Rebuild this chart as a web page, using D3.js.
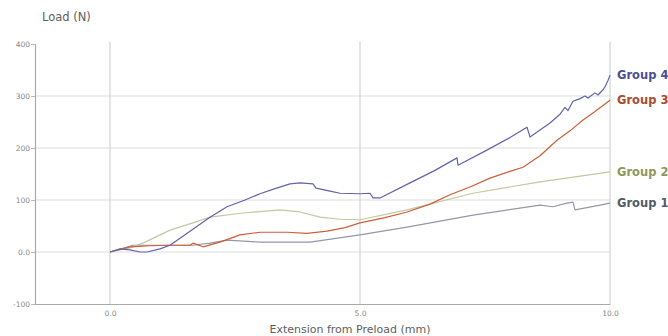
<!DOCTYPE html>
<html>
<head>
<meta charset="utf-8">
<script src="https://cdn.jsdelivr.net/npm/d3@7"></script>
<style>
    body { margin: 0; background: #fff; }
    svg { display: block; }
    text { font-family: "DejaVu Sans", sans-serif; }
</style>
</head>
<body>
<svg id="chart" width="668" height="336"></svg>
<script>
// Series (x in mm, load in N)
const group4X = [0, 0.2, 0.4, 0.6, 0.74, 1.0, 1.2, 1.6, 2.0, 2.34, 2.7, 3.0, 3.3, 3.6, 3.8, 4.06, 4.12, 4.4, 4.6, 5.0, 5.2, 5.26, 5.4, 6.0, 6.5, 6.94, 6.96, 7.5, 8.0, 8.34, 8.4, 8.8, 9.0, 9.1, 9.16, 9.26, 9.4, 9.5, 9.56, 9.7, 9.76, 9.86, 9.9, 9.96, 10]
const group4Y = [0, 6, 4, 0, 0, 6, 13, 40, 67, 87, 100, 112, 122, 131, 133, 131, 123, 117, 113, 112, 113, 104, 104, 133, 157, 181, 167, 194, 220, 240, 221, 248, 265, 278, 272, 290, 295, 300, 296, 306, 302, 312, 318, 330, 340]

const group3X = [0, 0.4, 0.8, 1.2, 1.6, 1.66, 1.86, 2.2, 2.6, 3.0, 3.54, 3.94, 4.34, 4.7, 5.0, 5.5, 5.94, 6.4, 6.8, 7.2, 7.6, 8.0, 8.26, 8.6, 8.94, 9.2, 9.46, 9.7, 10]
const group3Y = [0, 10, 12, 13, 13, 17, 10, 19, 33, 38, 38, 36, 40, 47, 56, 66, 77, 92, 110, 125, 142, 155, 163, 185, 215, 233, 254, 270, 292]

const group2X = [0, 0.4, 0.66, 1.2, 1.66, 2.0, 2.66, 3.4, 3.8, 4.2, 4.6, 5.0, 5.94, 7.26, 8.6, 10]
const group2Y = [0, 8, 17, 42, 56, 67, 75, 81, 77, 67, 63, 62, 81, 113, 135, 154]

const group1X = [0, 0.46, 1.0, 1.66, 2.0, 2.34, 3.0, 4.0, 5.0, 5.94, 7.26, 8.6, 8.86, 9.14, 9.26, 9.3, 9.8, 10]
const group1Y = [0, 13, 13, 13, 17, 23, 19, 19, 33, 48, 71, 90, 87, 94, 96, 81, 90, 94]

const groupNames = ['Group 4', 'Group 3', 'Group 2', 'Group 1']
const lineColors = ['#6262ad', '#cc5f3a', '#c6c6a2', '#9198a6']
const labelColors = ['#4c4f96', '#a84c30', '#90965a', '#515b66']

const yTicks = [400, 300, 200, 100, 0, -100]
const yTickLabels = ['400', '300', '200', '100', '0.0', '-100']
const xTicks = [0, 5, 10]
const xTickLabels = ['0.0', '5.0', '10.0']

const series = [
    { x: group4X, y: group4Y },
    { x: group3X, y: group3Y },
    { x: group2X, y: group2Y },
    { x: group1X, y: group1Y }
]

let svg = d3.select('#chart')

let xScale = d3.scaleLinear().domain([-1.5, 10]).range([35, 610]),
    yScale = d3.scaleLinear().domain([-100, 400]).range([304, 44])

// horizontal grid
svg.append('g')
    .selectAll('line')
    .data(yTicks.filter(d => d < 400 && d > -100))
    .enter()
    .append('line')
    .attr('x1', xScale(-1.5))
    .attr('x2', xScale(10))
    .attr('y1', d => yScale(d))
    .attr('y2', d => yScale(d))
    .attr('stroke', '#dedede')
    .attr('stroke-width', 1.2)

// vertical grid
svg.append('g')
    .selectAll('line')
    .data(xTicks)
    .enter()
    .append('line')
    .attr('x1', d => xScale(d))
    .attr('x2', d => xScale(d))
    .attr('y1', yScale(400) - 2)
    .attr('y2', yScale(-100))
    .attr('stroke', '#d2d2d2')
    .attr('stroke-width', 1.2)

// y axis
let yAxis = svg.append('g')
    .attr('transform', `translate(${xScale(-1.5)},0)`)
    .call(d3.axisLeft(yScale).tickValues(yTicks).tickSize(4)
        .tickFormat((d, i) => yTickLabels[i]))
yAxis.select('.domain').attr('stroke', '#aaa').attr('stroke-width', 1.2)
yAxis.selectAll('.tick line').attr('stroke', '#bbb')
yAxis.selectAll('.tick text')
    .attr('fill', '#888')
    .style('font-size', '7.5px')
    .attr('x', -5)

// x axis
let xAxis = svg.append('g')
    .attr('transform', `translate(0,${yScale(-100)})`)
    .call(d3.axisBottom(xScale).tickValues(xTicks).tickSize(0)
        .tickFormat((d, i) => xTickLabels[i]))
xAxis.select('.domain').attr('stroke', '#aaa').attr('stroke-width', 1.2)
xAxis.selectAll('.tick text')
    .attr('fill', '#888')
    .style('font-size', '7.5px')
    .attr('y', 7)

// titles
svg.append('text')
    .attr('x', 42)
    .attr('y', 21)
    .attr('fill', '#606060')
    .style('font-size', '11.5px')
    .text('Load (N)')

svg.append('text')
    .attr('x', 350)
    .attr('y', 333)
    .attr('text-anchor', 'middle')
    .attr('fill', '#606060')
    .style('font-size', '11px')
    .text('Extension from Preload (mm)')

// lines (draw Group 1 first so Group 4 sits on top)
let line = d3.line()
    .x(d => xScale(d[0]))
    .y(d => yScale(d[1]))

let lines = svg.append('g')
series.slice().reverse().forEach((s, j) => {
    let i = series.length - 1 - j
    lines.append('path')
        .datum(s.x.map((v, k) => [v, s.y[k]]))
        .attr('d', line)
        .attr('fill', 'none')
        .attr('stroke', lineColors[i])
        .attr('stroke-width', 1.2)
        .attr('stroke-linejoin', 'round')
})

// end labels
svg.append('g')
    .selectAll('text')
    .data(series)
    .enter()
    .append('text')
    .attr('x', 617)
    .attr('y', d => yScale(d.y[d.y.length - 1]))
    .attr('dy', '0.35em')
    .attr('fill', (d, i) => labelColors[i])
    .style('font-size', '11.5px')
    .style('font-weight', 'bold')
    .text((d, i) => groupNames[i])
</script>
</body>
</html>
